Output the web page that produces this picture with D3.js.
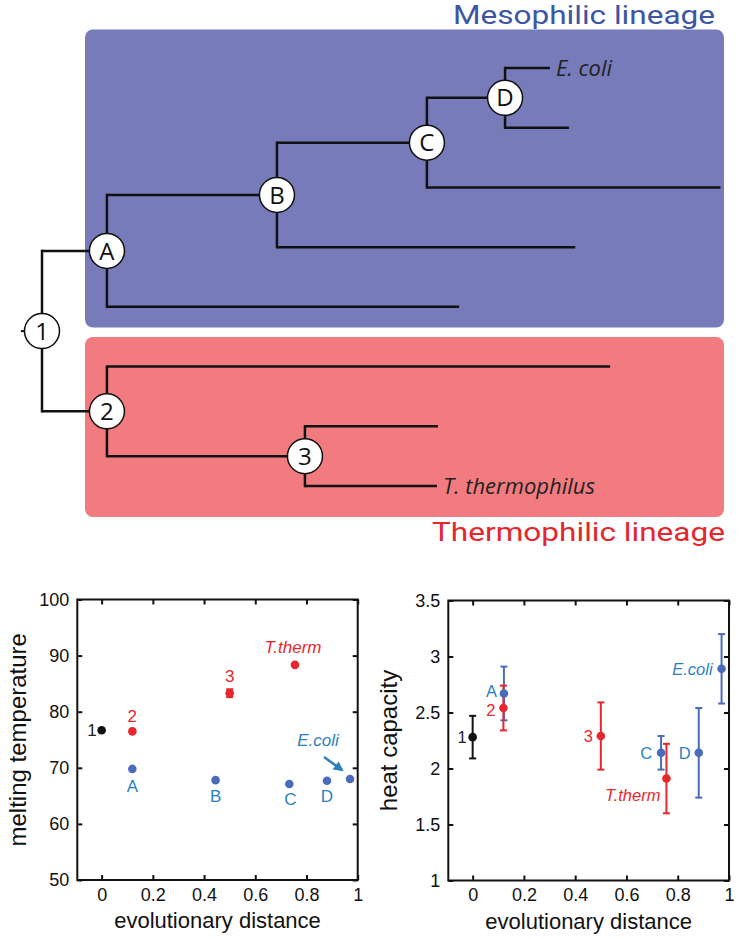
<!DOCTYPE html>
<html><head><meta charset="utf-8">
<script src="https://cdn.jsdelivr.net/npm/d3@7"></script>
<style>
html,body{margin:0;padding:0;background:#fff;}
svg{display:block;}
</style></head>
<body>
<svg id="c" width="741" height="939"></svg>
<script>
// ---------------- DATA ----------------
// Phylogenetic tree (ids, parents, distance from root node "1")
const treeIds     = ["1","A","B","C","D","E. coli","d2","c2","b2","a2","2","r2","3","s3","T. thermophilus"];
const treeParents = ["", "1","A","B","C","D","D","C","B","A","1","2","2","3","3"];
const treeDist    = [0, 0.123, 0.445, 0.729, 0.877, 0.962, 0.998, 1.285, 1.010, 0.790, 0.123, 1.076, 0.498, 0.750, 0.748];
const lineageTitles = ["Mesophilic lineage", "Thermophilic lineage"];

// Scatter data
const pointNames = ["1", "2", "A", "3", "B", "C", "T.therm", "D", "E.coli"];
const pointGroup = ["root", "thermo", "meso", "thermo", "meso", "meso", "thermo", "meso", "meso"];
const distance   = [0, 0.12, 0.12, 0.50, 0.445, 0.733, 0.755, 0.88, 0.97];
const meltTemp   = [76.7, 76.5, 69.8, 83.3, 67.8, 67.1, 88.35, 67.7, 68.0];
const meltErr    = [0, 0, 0, 0.7, 0, 0, 0, 0, 0];
// heat capacity (point "B" not shown in the right panel)
const hcNames    = ["1", "A", "2", "3", "C", "T.therm", "D", "E.coli"];
const hcGroup    = ["root", "meso", "thermo", "thermo", "meso", "thermo", "meso", "meso"];
const hcDistance = [0, 0.122, 0.12, 0.50, 0.735, 0.756, 0.882, 0.971];
const heatCap    = [2.28, 2.67, 2.54, 2.29, 2.14, 1.91, 2.14, 2.89];
const heatCapErr = [0.19, 0.24, 0.20, 0.30, 0.15, 0.31, 0.40, 0.31];

const xTicks  = [0, 0.2, 0.4, 0.6, 0.8, 1];
const ytTicks = [50, 60, 70, 80, 90, 100];
const yhTicks = [1, 1.5, 2, 2.5, 3, 3.5];

// ---------------- DRAW ----------------
const svg = d3.select("#c");
const colPoint = {root:"#111111", thermo:"#e8262d", meso:"#4b6cbd"};
const colLabel = {root:"#222222", thermo:"#e8262d", meso:"#2a7fc0"};

// ===== Tree =====
const treeFont = "'Open Sans', 'DejaVu Sans', sans-serif";
const titleFont = "Roboto, 'Open Sans', sans-serif";
const g = svg.append("g");
// lineage boxes
g.append("rect").attr("x",85).attr("y",29.5).attr("width",639).attr("height",298).attr("rx",8).attr("fill","#777bba");
g.append("rect").attr("x",85).attr("y",337).attr("width",639).attr("height",180).attr("rx",8).attr("fill","#f27b80");
g.append("text").attr("x",715).attr("y",24.3).attr("text-anchor","end")
  .attr("font-family",titleFont).attr("font-size",26).attr("fill","#3d55a5")
  .attr("textLength",262).attr("lengthAdjust","spacingAndGlyphs").text(lineageTitles[0]);
g.append("text").attr("x",725).attr("y",541).attr("text-anchor","end")
  .attr("font-family",titleFont).attr("font-size",26).attr("fill","#e6262d")
  .attr("textLength",293).attr("lengthAdjust","spacingAndGlyphs").text(lineageTitles[1]);

const table = treeIds.map((id,i)=>({id, parent: treeParents[i] || null, dist: treeDist[i]}));
const root = d3.stratify().id(d=>d.id).parentId(d=>d.parent)(table);
const leaves = root.leaves();
const tx = d3.scaleLinear().domain([0,1]).range([42,570]);
const ty = d3.scaleLinear().domain([0, leaves.length-1]).range([68,486]);
leaves.forEach((l,i)=>{ l.py = ty(i); });
root.eachAfter(n=>{ if(n.children){ n.py = (n.children[0].py + n.children[n.children.length-1].py)/2; } });
root.each(n=>{ n.px = tx(n.data.dist); });

// branches: vertical connector at parent x, horizontal to child
const links = g.append("g").attr("fill","none").attr("stroke","#111").attr("stroke-width",2.5);
root.each(n=>{
  if(n.children){
    const ys = n.children.map(c=>c.py);
    links.append("line").attr("x1",n.px).attr("x2",n.px).attr("y1",d3.min(ys)-1.2).attr("y2",d3.max(ys)+1.2);
    n.children.forEach(c=>{
      links.append("line").attr("x1",n.px).attr("x2",c.px).attr("y1",c.py).attr("y2",c.py);
    });
  }
});
// root stub
links.append("line").attr("x1",tx(-0.04)).attr("x2",root.px).attr("y1",root.py).attr("y2",root.py).attr("stroke-width",2);
// node circles
root.descendants().filter(n=>n.children).forEach(n=>{
  g.append("circle").attr("cx",n.px).attr("cy",n.py).attr("r",17.5).attr("fill","#fff").attr("stroke","#111").attr("stroke-width",1.5);
  g.append("text").attr("x",n.px).attr("y",n.py).attr("dy","0.36em").attr("text-anchor","middle")
    .attr("font-family",treeFont).attr("font-size",24).attr("fill","#111").text(n.data.id);
});
// named leaves
leaves.filter(l=>l.data.id.includes(".")).forEach(l=>{
  g.append("text").attr("x",l.px+6).attr("y",l.py).attr("dy","0.35em")
    .attr("font-family",treeFont).attr("font-style","italic").attr("font-size",22).attr("fill","#222")
    .text(l.data.id);
});

// ===== Scatter plots =====
const plotFont = "'Liberation Sans', Arial, sans-serif";
function panel(opts){
  const {x0,x1,y0,y1,yDomain,yTicks,yTitle,names,groups,xs,ys,errs,labelPos,fmt,lfs} = opts;
  const x = d3.scaleLinear().domain([-0.095,1]).range([x0,x1]);
  const y = d3.scaleLinear().domain(yDomain).range([y1,y0]);
  const p = svg.append("g").attr("font-family",plotFont);
  const ax = (gen, tx, ty, labels) => {
    const a = p.append("g").attr("transform",`translate(${tx},${ty})`)
      .call(gen.tickSizeOuter(0).tickSizeInner(-5).tickPadding(labels?8:0));
    a.select(".domain").remove();
    a.selectAll(".tick line").attr("stroke","#111").attr("stroke-width",2);
    a.selectAll("text").attr("font-size",18).attr("fill","#111").attr("font-family",plotFont);
    if(!labels) a.selectAll("text").remove();
    return a;
  };
  ax(d3.axisBottom(x).tickValues(xTicks).tickFormat(d3.format("")), 0, y1, true);
  ax(d3.axisTop(x).tickValues(xTicks), 0, y0, false);
  ax(d3.axisLeft(y).tickValues(yTicks).tickFormat(fmt), x0, 0, true);
  ax(d3.axisRight(y).tickValues(yTicks), x1, 0, false);
  p.append("rect").attr("x",x0).attr("y",y0).attr("width",x1-x0).attr("height",y1-y0)
    .attr("fill","none").attr("stroke","#111").attr("stroke-width",2);
  p.append("text").attr("x",(x0+x1)/2).attr("y",y1+48).attr("text-anchor","middle")
    .attr("font-size",22).attr("fill","#111").text("evolutionary distance");
  p.append("text").attr("transform",`translate(${x0-51},${(y0+y1)/2}) rotate(-90)`).attr("text-anchor","middle")
    .attr("font-size",24).attr("fill","#111").text(yTitle);
  // error bars
  names.forEach((n,i)=>{
    if(!errs[i]) return;
    const c = colPoint[groups[i]], cx = x(xs[i]);
    const ya = y(ys[i]+errs[i]), yb = y(ys[i]-errs[i]);
    const e = p.append("g").attr("stroke",c).attr("stroke-width",2);
    e.append("line").attr("x1",cx).attr("x2",cx).attr("y1",ya).attr("y2",yb);
    e.append("line").attr("x1",cx-3.5).attr("x2",cx+3.5).attr("y1",ya).attr("y2",ya);
    e.append("line").attr("x1",cx-3.5).attr("x2",cx+3.5).attr("y1",yb).attr("y2",yb);
  });
  names.forEach((n,i)=>{
    p.append("circle").attr("cx",x(xs[i])).attr("cy",y(ys[i])).attr("r",4.3).attr("fill",colPoint[groups[i]]);
  });
  names.forEach((n,i)=>{
    const lp = labelPos[n];
    if(!lp) return;
    p.append("text").attr("x",x(xs[i])+lp[0]).attr("y",y(ys[i])+lp[1]).attr("text-anchor",lp[2])
      .attr("font-size",lfs).attr("fill",colLabel[groups[i]])
      .attr("font-style",n.includes(".")?"italic":"normal").text(n);
  });
  return {x,y,p};
}

const L = panel({x0:77.3,x1:357.7,y0:599.5,y1:880,yDomain:[50,100],yTicks:ytTicks,yTitle:"melting temperature",
  names:pointNames,groups:pointGroup,xs:distance,ys:meltTemp,errs:meltErr,fmt:d3.format(""),lfs:17,
  labelPos:{"1":[-5,6,"end"],"2":[0,-9,"middle"],"A":[0,23,"middle"],"3":[0,-11,"middle"],"B":[0,22,"middle"],
            "C":[1,21,"middle"],"T.therm":[-2,-12,"middle"],"D":[0,21,"middle"],"E.coli":[-32,-33,"middle"]}});
// arrow to E.coli
svg.append("defs").append("marker").attr("id","ah").attr("viewBox","0 0 10 10").attr("refX",8).attr("refY",5)
  .attr("markerWidth",4).attr("markerHeight",4).attr("orient","auto")
  .append("path").attr("d","M0,0L10,5L0,10z").attr("fill","#2a7fc0");
{
  const i = pointNames.indexOf("E.coli");
  const ex = L.x(distance[i]), ey = L.y(meltTemp[i]);
  L.p.append("line").attr("x1",ex-26).attr("y1",ey-22).attr("x2",ex-8).attr("y2",ey-9)
    .attr("stroke","#2a7fc0").attr("stroke-width",2.5).attr("marker-end","url(#ah)");
}

panel({x0:448.3,x1:729,y0:600.5,y1:880.5,yDomain:[1,3.5],yTicks:yhTicks,yTitle:"heat capacity",
  names:hcNames,groups:hcGroup,xs:hcDistance,ys:heatCap,errs:heatCapErr,fmt:d3.format(""),lfs:16.5,
  labelPos:{"1":[-6,6,"end"],"A":[-7,4,"end"],"2":[-8,8,"end"],"3":[-8,6,"end"],"C":[-9,6,"end"],
            "T.therm":[-6,22,"end"],"D":[-8,6,"end"],"E.coli":[-9,6,"end"]}});
</script>
</body></html>
